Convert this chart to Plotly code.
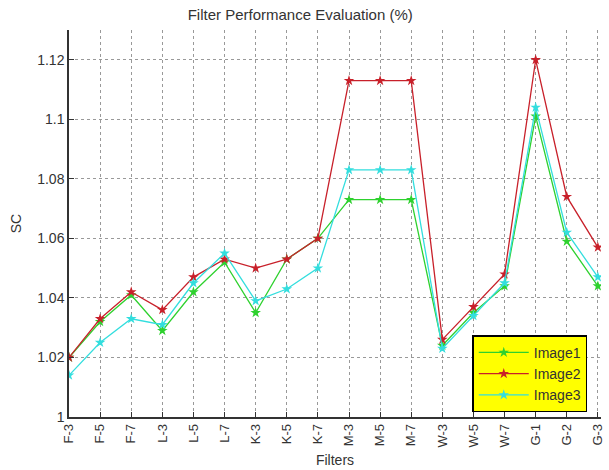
import plotly.graph_objects as go

filters = ["F-3", "F-5", "F-7", "L-3", "L-5", "L-7", "K-3", "K-5", "K-7",
           "M-3", "M-5", "M-7", "W-3", "W-5", "W-7", "G-1", "G-2", "G-3"]
image1 = [1.020, 1.032, 1.041, 1.029, 1.042, 1.052, 1.035, 1.053, 1.060,
          1.073, 1.073, 1.073, 1.024, 1.035, 1.044, 1.101, 1.059, 1.044]
image2 = [1.020, 1.033, 1.042, 1.036, 1.047, 1.053, 1.050, 1.053, 1.060,
          1.113, 1.113, 1.113, 1.026, 1.037, 1.048, 1.120, 1.074, 1.057]
image3 = [1.014, 1.025, 1.033, 1.031, 1.045, 1.055, 1.039, 1.043, 1.050,
          1.083, 1.083, 1.083, 1.023, 1.034, 1.045, 1.104, 1.062, 1.047]
yticks = [1, 1.02, 1.04, 1.06, 1.08, 1.1, 1.12]
ytext = ["1", "1.02", "1.04", "1.06", "1.08", "1.1", "1.12"]

series = [("Image1", image1, "#2ed12e"), ("Image2", image2, "#c8202a"), ("Image3", image3, "#33dede")]
xidx = list(range(len(filters)))

fig = go.Figure()
for name, vals, col in series:
    fig.add_trace(go.Scatter(x=xidx, y=vals, name=name, mode="lines+markers",
                             line=dict(color=col, width=1.3),
                             marker=dict(symbol="star", size=8, color=col)))

font = "Liberation Sans, Arial, sans-serif"
fig.update_layout(
    width=609, height=470,
    margin=dict(l=69, r=8, t=30, b=53),
    paper_bgcolor="white", plot_bgcolor="white",
    font=dict(family=font, size=14, color="#333"),
    title=dict(text="Filter Performance Evaluation (%)", x=0.493, xanchor="center",
               y=0.968, yanchor="middle", font=dict(size=15, family=font, color="#333")),
    legend=dict(x=0.758, y=0.012, xanchor="left", yanchor="bottom",
                bgcolor="#ffff00", bordercolor="black", borderwidth=1.5,
                font=dict(size=14, family=font, color="#333"), tracegroupgap=0,
                itemwidth=50),
    showlegend=True,
)
fig.update_xaxes(range=[0, 17.1], tickmode="array", tickvals=xidx, ticktext=filters,
                 tickangle=-90, tickfont=dict(size=13), automargin=False,
                 showgrid=True, gridcolor="#999", griddash="dot", gridwidth=1,
                 showline=True, linecolor="#333", linewidth=1.5, ticks="inside", ticklen=5,
                 tickcolor="#333", zeroline=False,
                 title=dict(text="Filters", font=dict(size=14, family=font, color="#333"), standoff=9))
fig.update_yaxes(range=[1, 1.13], tickmode="array", tickvals=yticks, ticktext=ytext,
                 tickfont=dict(size=14), automargin=False,
                 showgrid=True, gridcolor="#999", griddash="dot", gridwidth=1,
                 showline=True, linecolor="#333", linewidth=1.5, ticks="inside", ticklen=5,
                 tickcolor="#333", zeroline=False,
                 title=dict(text="SC", font=dict(size=14, family=font, color="#333"), standoff=12))

fig.write_html("out.html")
